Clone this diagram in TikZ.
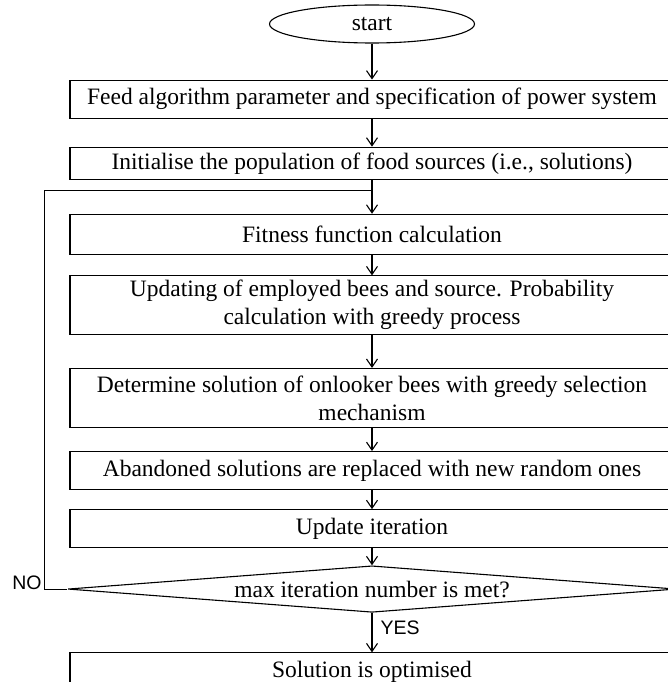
\documentclass[tikz,border=0pt]{standalone}
\usepackage{fontspec}
\setmainfont{Liberation Serif}
\newfontfamily\rotulofont{Liberation Sans}
\usepackage{tikz}
\usetikzlibrary{arrows.meta, positioning, shapes.geometric}

\begin{document}
\begin{tikzpicture}[
    x=1pt, y=1pt,
    node distance=28pt,
    >={Straight Barb[length=8pt, width=11pt]},
    line width=1.1pt,
    bloco/.style={
        rectangle,
        draw,
        align=center,
        minimum width=604pt,
        minimum height=38pt,
        inner sep=2pt,
        font=\fontsize{23.5}{28.2}\selectfont
    },
    terminal/.style={
        ellipse,
        draw,
        minimum width=205pt,
        minimum height=38pt,
        inner sep=0pt,
        font=\fontsize{23.5}{28.2}\selectfont
    },
    losango/.style={
        diamond,
        draw,
        aspect=20,
        inner sep=0pt,
        minimum width=604pt,
        minimum height=46.5pt,
        font=\fontsize{23.5}{28.2}\selectfont
    },
    rotulo/.style={inner sep=2pt, font=\rotulofont\fontsize{19.5}{23}\selectfont},
    seta/.style={->}
]

\useasboundingbox (0,0) rectangle (668,-682);

\node[terminal] (inicio) at (372,-24) {start};
\node[bloco, below=36pt of inicio] (parametros) {Feed algorithm parameter and specification of power system};
\node[bloco, below=of parametros, minimum height=32.5pt] (populacao) {Initialise the population of food sources (i.e., solutions)};
\node[bloco, below=33.5pt of populacao, minimum height=40pt] (aptidao) {Fitness function calculation};
\node[bloco, below=20.5pt of aptidao, minimum height=58.5pt] (empregadas) {Updating of employed bees and source. Probability\\calculation with greedy process};
\node[bloco, below=33pt of empregadas, minimum height=59pt] (observadoras) {Determine solution of onlooker bees with greedy selection\\mechanism};
\node[bloco, below=23pt of observadoras] (abandono) {Abandoned solutions are replaced with new random ones};
\node[bloco, below=19pt of abandono] (iteracao) {Update iteration};
\node[losango, below=17pt of iteracao] (criterio) {max iteration number is met?};
\node[bloco, below=39.5pt of criterio, minimum height=37pt] (solucao) {Solution is optimised};

\coordinate (retorno) at ([yshift=-10.5pt]populacao.south);

\draw[seta] (inicio) -- (parametros);
\draw[seta] (parametros) -- (populacao);
\draw[seta] (populacao) -- (aptidao);
\draw[seta] (aptidao) -- (empregadas);
\draw[seta] (empregadas) -- (observadoras);
\draw[seta] (observadoras) -- (abandono);
\draw[seta] (abandono) -- (iteracao);
\draw[seta] (iteracao) -- (criterio);
\draw[seta] (criterio) -- node[rotulo, right=6pt, pos=0.39] {YES} (solucao);
\draw (criterio.west) -- ++(-23.3,0) node[rotulo, anchor=base east] {NO} |- (retorno);

\end{tikzpicture}
\end{document}
